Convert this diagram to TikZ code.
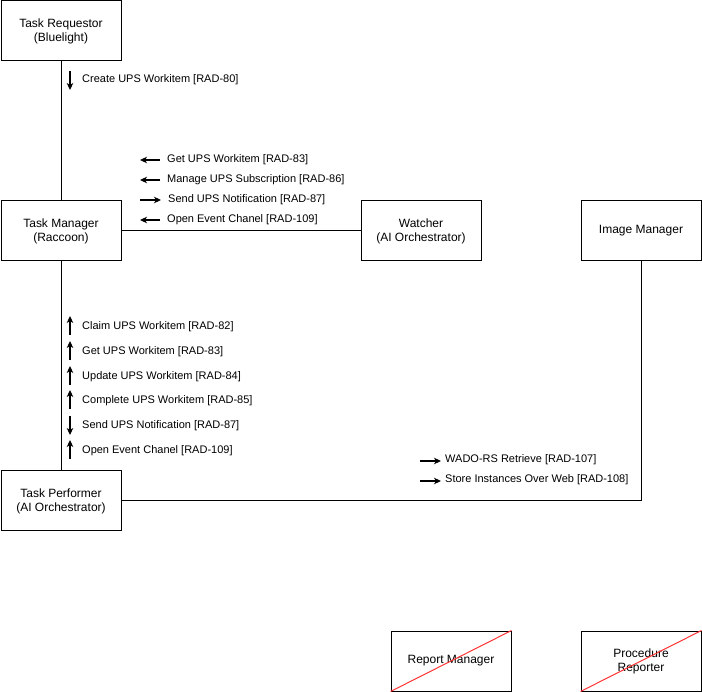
\documentclass[tikz,border=0pt]{standalone}
\usepackage{fontspec}
\setmainfont{Liberation Sans}
\usetikzlibrary{arrows.meta}
\begin{document}
\begin{tikzpicture}[x=1pt,y=-1pt,
  box/.style={draw=black,line width=1pt,minimum width=120pt,minimum height=60pt,anchor=north west,align=center,font=\fontsize{12}{14}\selectfont,inner sep=0pt},
  lbl/.style={anchor=west,font=\fontsize{11}{13}\selectfont,inner sep=0pt},
  link/.style={draw=black,line width=1pt},
  tip/.style={line width=1.3pt,-{Stealth[length=7pt,width=6.5pt,inset=2pt]}},
  cross/.style={draw={rgb,255:red,255;green,51;blue,51},line width=1pt}]
\useasboundingbox (0,0) rectangle (702,692);
\node[box] (req) at (0.5,0.5) {Task Requestor\\(Bluelight)};
\node[box] (tm) at (0.5,200.5) {Task Manager\\(Raccoon)};
\node[box] (w) at (360.5,200.5) {Watcher\\(AI Orchestrator)};
\node[box] (im) at (580.5,200.5) {Image Manager};
\node[box] (tp) at (0.5,470.5) {Task Performer\\(AI Orchestrator)};
\node[box] (rm) at (390.5,630.5) {Report Manager};
\node[box] (pr) at (580.5,630.5) {Procedure\\Reporter};
\draw[cross] (rm.south west) -- (rm.north east);
\draw[cross] (pr.south west) -- (pr.north east);
% connectors
\draw[link] (req.south) -- (tm.north);
\draw[link] (tm.east) -- (w.west);
\draw[link] (tm.south) -- (tp.north);
\coordinate (corner) at (im.south |- tp.east);
\draw[link] (tp.east) -- (corner) -- (im.south);
% labels: requestor
\draw[tip] (70,71) -- (70,90);
\node[lbl] (l1) at (82,80) {Create UPS Workitem [RAD-80]};
% watcher labels
\draw[tip] (160,160) -- (140,160);
\node[lbl] (l2) at (167,160) {Get UPS Workitem [RAD-83]};
\draw[tip] (160,180) -- (140,180);
\node[lbl] (l3) at (167,180) {Manage UPS Subscription [RAD-86]};
\draw[tip] (140,200) -- (161,200);
\node[lbl] (l4) at (168,200) {Send UPS Notification [RAD-87]};
\draw[tip] (160,220) -- (140,220);
\node[lbl] (l5) at (167,220) {Open Event Chanel [RAD-109]};
% performer labels
\draw[tip] (70,335) -- (70,316);
\node[lbl] (p1) at (82,327) {Claim UPS Workitem [RAD-82]};
\draw[tip] (70,360) -- (70,341);
\node[lbl] (p2) at (82,352) {Get UPS Workitem [RAD-83]};
\draw[tip] (70,385) -- (70,366);
\node[lbl] (p3) at (82,377) {Update UPS Workitem [RAD-84]};
\draw[tip] (70,409) -- (70,390);
\node[lbl] (p4) at (82,401) {Complete UPS Workitem [RAD-85]};
\draw[tip] (70,416) -- (70,435);
\node[lbl] (p5) at (82,426) {Send UPS Notification [RAD-87]};
\draw[tip] (70,459) -- (70,440);
\node[lbl] (p6) at (82,451) {Open Event Chanel [RAD-109]};
% image manager labels
\draw[tip] (420,461) -- (441,461);
\node[lbl] (i1) at (445,460) {WADO-RS Retrieve [RAD-107]};
\draw[tip] (420,481) -- (441,481);
\node[lbl] (i2) at (445,480) {Store Instances Over Web [RAD-108]};
\end{tikzpicture}
\end{document}
